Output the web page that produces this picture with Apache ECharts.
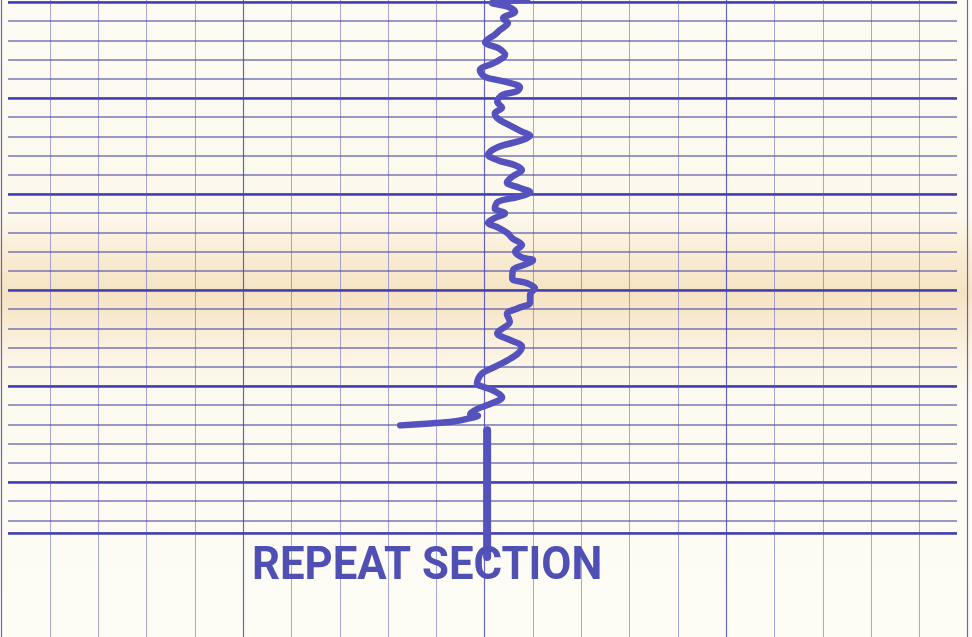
<!DOCTYPE html>
<html lang="en">
<head>
    <meta charset="UTF-8">
    <title>Repeat section</title>
    <script src="https://cdn.jsdelivr.net/npm/echarts@6/dist/echarts.min.js"></script>
    <style>
        html, body { margin: 0; padding: 0; }
        #container { width: 972px; height: 637px; }
    </style>
</head>
<body>
<div id="container"></div>
<script type="text/javascript">
    // log curve (x in chart units, depth in chart units, 2 per grid row)
    let logX = [108.8, 101.5, 104.8, 106.3, 103.8, 104.8, 103.2, 102.1, 100.1, 102.8,
        104.2, 102.1, 99.0, 100.1, 104.2, 107.3, 106.7, 103.6, 102.6, 103.6,
        102.1, 102.6, 104.2, 107.7, 109.4, 107.7, 102.8, 100.7, 102.8, 106.3,
        107.7, 105.7, 104.6, 106.9, 109.4, 106.9, 102.8, 102.1, 104.2, 102.1,
        100.7, 102.8, 104.8, 105.7, 107.7, 106.3, 107.7, 110.0, 108.0, 105.9,
        105.7, 108.8, 110.4, 109.4, 109.4, 106.9, 104.6, 105.2, 102.6, 105.2,
        107.7, 106.9, 104.8, 102.1, 99.4, 98.4, 101.5, 103.6, 101.5, 98.4,
        97.0, 98.6, 96.5, 93.5, 88.7, 82.5];
    let logDepth = [-0.2, 0.1, 0.5, 1.0, 1.7, 2.2, 2.9, 3.4, 4.2, 4.8,
        5.5, 6.3, 7.1, 7.8, 8.3, 8.9, 9.3, 9.7, 10.4, 11.0,
        11.6, 12.1, 12.6, 13.5, 13.9, 14.4, 15.1, 15.9, 16.5, 17.0,
        17.5, 18.2, 18.8, 19.3, 19.8, 20.3, 20.8, 21.5, 22.0, 22.5,
        23.0, 23.5, 24.1, 24.6, 25.3, 26.0, 26.6, 26.9, 27.4, 27.9,
        28.8, 29.3, 29.8, 30.5, 31.3, 31.9, 32.5, 33.3, 34.5, 35.2,
        35.9, 36.6, 37.3, 38.0, 38.7, 39.7, 40.4, 41.2, 41.8, 42.4,
        42.9, 43.1, 43.4, 43.7, 43.9, 44.1];

    // repeat section marker
    let barX = [100.5, 100.5];
    let barDepth = [44.6, 57.8];
    let label = 'REPEAT SECTION';

    let logData = logX.map(function (v, i) { return [v, logDepth[i]]; });
    let barData = barX.map(function (v, i) { return [v, barDepth[i]]; });

    let ink = '#5552bd';
    let hidden = { axisLine: { show: false }, axisTick: { show: false }, axisLabel: { show: false } };

    let dom = document.getElementById("container");
    let myChart = echarts.init(dom, null, { renderer: 'canvas' });

    let option = {
        animation: false,
        backgroundColor: new echarts.graphic.LinearGradient(0, 0, 0, 1, [
            { offset: 0, color: '#fdfcf4' },
            { offset: 0.34, color: '#fcf8ec' },
            { offset: 0.4, color: '#f9ecd3' },
            { offset: 0.46, color: '#f6e3c3' },
            { offset: 0.5, color: '#f8e9cf' },
            { offset: 0.56, color: '#fbf4e4' },
            { offset: 0.62, color: '#fdfaf0' },
            { offset: 1, color: '#fdfdf6' }
        ]),
        grid: [
            // vertical rulings, full height
            { left: 1.7, right: 4.3, top: 0, bottom: 0 },
            // horizontal rulings
            { left: 8, right: 15, top: 2, height: 530.9 },
            // the log itself
            { left: 1.7, right: 4.3, top: 2, height: 530.9 }
        ],
        xAxis: [
            Object.assign({ type: 'value', gridIndex: 0, min: 0, max: 200, interval: 10,
                splitLine: { show: true, lineStyle: { color: 'rgba(80,80,200,0.5)', width: 1 } } }, hidden),
            Object.assign({ type: 'value', gridIndex: 0, min: 0, max: 200, interval: 50,
                splitLine: { show: true, lineStyle: { color: 'rgba(70,70,190,0.7)', width: 1.2 } } }, hidden),
            Object.assign({ type: 'value', gridIndex: 1, min: 0, max: 200, splitLine: { show: false } }, hidden),
            Object.assign({ type: 'value', gridIndex: 2, min: 0, max: 200, splitLine: { show: false } }, hidden)
        ],
        yAxis: [
            Object.assign({ type: 'value', gridIndex: 0, min: 0, max: 1, splitLine: { show: false } }, hidden),
            Object.assign({ type: 'value', gridIndex: 1, inverse: true, min: 0, max: 55.3, interval: 2,
                splitLine: { show: true, lineStyle: { color: 'rgba(75,75,160,0.75)', width: 1.5 } } }, hidden),
            Object.assign({ type: 'value', gridIndex: 1, inverse: true, min: 0, max: 55.3, interval: 10,
                splitLine: { show: true, lineStyle: { color: '#4040b4', width: 2.5 } } }, hidden),
            Object.assign({ type: 'value', gridIndex: 2, inverse: true, min: 0, max: 55.3, splitLine: { show: false } }, hidden)
        ],
        series: [
            {
                name: 'log',
                type: 'line',
                xAxisIndex: 3,
                yAxisIndex: 3,
                data: logData,
                showSymbol: false,
                smooth: 0.35,
                clip: false,
                z: 5,
                lineStyle: { color: ink, width: 6.5, cap: 'round', join: 'round' }
            },
            {
                name: 'repeat',
                type: 'line',
                xAxisIndex: 3,
                yAxisIndex: 3,
                data: barData,
                showSymbol: false,
                clip: false,
                z: 5,
                lineStyle: { color: ink, width: 8, cap: 'round' }
            }
        ],
        graphic: [
            {
                type: 'text',
                x: 252,
                y: 567,
                scaleX: 0.95,
                z: 10,
                style: {
                    text: label,
                    font: 'bold 46px Roboto',
                    fill: '#4f4fb4',
                    textVerticalAlign: 'middle',
                    verticalAlign: 'middle'
                }
            }
        ]
    };
    myChart.setOption(option);
</script>
</body>
</html>
